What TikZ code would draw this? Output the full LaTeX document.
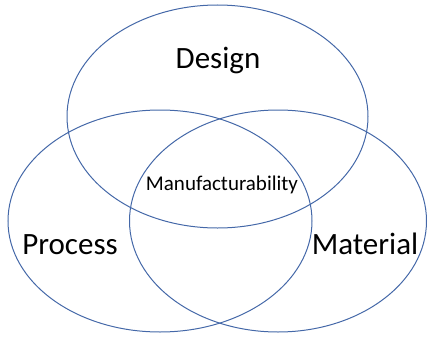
\documentclass[tikz,border=0pt]{standalone}
\usepackage{fontspec}
\setmainfont{Carlito}
\usepackage{tikz}
\usetikzlibrary{shapes.geometric}
\definecolor{vennblue}{RGB}{68,104,168}

\tikzset{
  venn/.style={draw=vennblue, line width=1pt, ellipse, inner sep=0pt},
  biglabel/.style={text=black, font=\fontsize{31}{37}\selectfont},
  smalllabel/.style={text=black, font=\fontsize{21}{25}\selectfont}
}

\begin{document}
\begin{tikzpicture}[x=1pt,y=-1pt]
\useasboundingbox (0,0) rectangle (428,337);

\node[venn, minimum width=301pt, minimum height=223pt] (design) at (217.5,116.5) {};
\node[venn, minimum width=304pt, minimum height=222pt] (process) at (160,221) {};
\node[venn, minimum width=297pt, minimum height=222pt] (material) at (278,221) {};

\node[biglabel] (designlbl) at (218,60) {Design};
\node[biglabel] (processlbl) at (70,245) {Process};
\node[biglabel] (materiallbl) at (365,244) {Material};
\node[smalllabel] (manuflbl) at (222,185) {Manufacturability};
\end{tikzpicture}
\end{document}
